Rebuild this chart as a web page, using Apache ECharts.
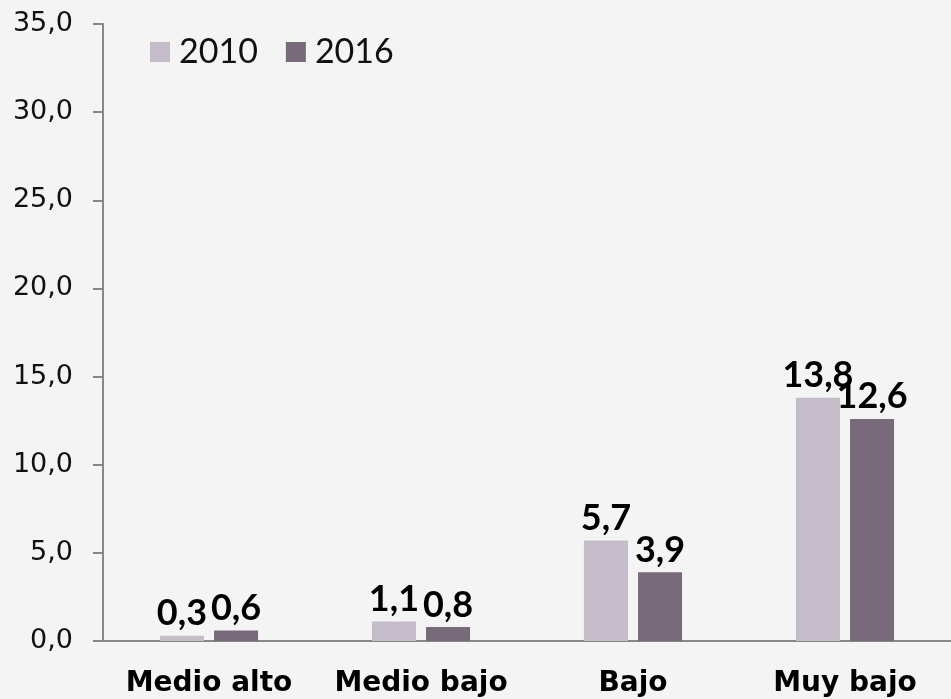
<!DOCTYPE html>
<html>
<head>
<meta charset="utf-8">
<script src="https://cdn.jsdelivr.net/npm/echarts@6/dist/echarts.min.js"></script>
<style>
  html, body { margin: 0; padding: 0; background: #f4f4f4; }
  #chart { width: 951px; height: 699px; }
</style>
</head>
<body>
<div id="chart"></div>
<script>
// categorías y valores
const categories = ['Medio alto', 'Medio bajo', 'Bajo', 'Muy bajo'];
const seriesNames = ['2010', '2016'];
const values2010 = [0.3, 1.1, 5.7, 13.8];
const values2016 = [0.6, 0.8, 3.9, 12.6];
const colors = ['#c4bcc8', '#786a7a'];

const FONT = 'Lato, "Open Sans", sans-serif';
const WIDE = '"DejaVu Sans", sans-serif';

function comma(v) {
  return Number(v).toFixed(1).replace('.', ',');
}

function barSeries(name, data, color) {
  return {
    name: name,
    type: 'bar',
    data: data,
    barWidth: 44,
    barGap: '23%',
    itemStyle: { color: color },
    label: {
      show: true,
      position: 'top',
      distance: 4,
      color: '#000',
      fontFamily: FONT,
      fontWeight: 'bold',
      fontSize: 36,
      formatter: p => comma(p.value)
    }
  };
}

var option = {
  backgroundColor: '#f4f4f4',
  animation: false,
  color: colors,
  legend: {
    data: seriesNames,
    left: 145,
    top: 30,
    itemWidth: 20,
    itemHeight: 20,
    itemGap: 28,
    icon: 'rect',
    textStyle: {
      fontFamily: FONT,
      fontSize: 34,
      color: '#111',
      padding: [0, 0, 0, 4]
    }
  },
  grid: {
    left: 103,
    top: 24,
    bottom: 58,
    width: 859
  },
  xAxis: {
    type: 'category',
    data: categories,
    axisLine: { lineStyle: { color: '#878787', width: 2 } },
    axisTick: { length: 10, lineStyle: { color: '#878787', width: 2 } },
    axisLabel: {
      interval: 0,
      hideOverlap: false,
      margin: 29,
      color: '#000',
      fontFamily: WIDE,
      fontWeight: 'bold',
      fontSize: 28
    }
  },
  yAxis: {
    type: 'value',
    min: 0,
    max: 35,
    interval: 5,
    splitLine: { show: false },
    axisLine: { show: true, lineStyle: { color: '#878787', width: 2 } },
    axisTick: { show: true, length: 10, lineStyle: { color: '#878787', width: 2 } },
    axisLabel: {
      margin: 30,
      color: '#111',
      fontFamily: WIDE,
      fontSize: 27,
      formatter: v => comma(v)
    }
  },
  series: [
    barSeries(seriesNames[0], values2010, colors[0]),
    barSeries(seriesNames[1], values2016, colors[1])
  ]
};

var chart = echarts.init(document.getElementById('chart'));
chart.setOption(option);
</script>
</body>
</html>
